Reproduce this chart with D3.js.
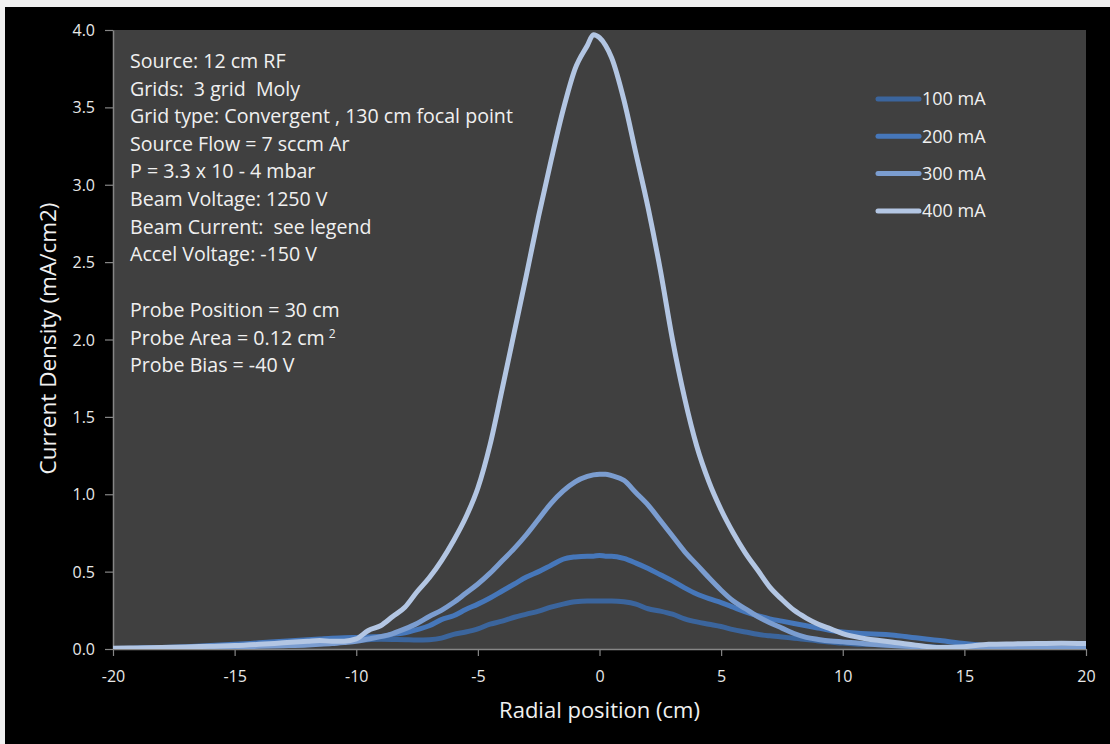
<!DOCTYPE html>
<html>
<head>
<meta charset="utf-8">
<script src="https://cdn.jsdelivr.net/npm/d3@7"></script>
<style>
html,body{margin:0;padding:0;background:#f0f0f0;}
svg{display:block;}
text{white-space:pre;}
</style>
</head>
<body>
<svg id="chart" width="1110" height="744"></svg>
<script>
// ---------------- DATA ----------------
const radialPosition = [-20,-19,-18,-17,-16,-15,-14,-13,-12,
  -11.5,-11,-10.5,-10,-9.5,-9,-8.5,-8,-7.5,-7,-6.5,-6,-5.5,-5,-4.5,-4,-3.5,-3,-2.5,-2,-1.5,-1,-0.5,
  -0.25,0,0.25,
  0.5,1,1.5,2,2.5,3,3.5,4,4.5,5,5.5,6,6.5,7,7.5,8,8.5,9,9.5,10,10.5,11,11.5,
  12,13,14,15,16,17,18,19,20];

const density100 = [0.002,0.004,0.006,0.01,0.015,0.02,0.027,0.033,0.04,
  0.043,0.046,0.05,0.055,0.06,0.063,0.062,0.06,0.058,0.06,0.07,0.095,0.11,0.13,0.16,0.18,0.205,0.225,0.245,0.27,0.29,0.305,0.31,
  0.31,0.31,0.31,
  0.31,0.305,0.29,0.26,0.245,0.225,0.195,0.175,0.16,0.145,0.125,0.11,0.095,0.085,0.077,0.07,0.062,0.052,0.045,0.038,0.033,0.03,0.027,
  0.024,0.018,0.012,0.008,0.006,0.005,0.005,0.004,0.004];

const density200 = [0.003,0.006,0.01,0.015,0.022,0.03,0.04,0.05,0.06,
  0.065,0.07,0.072,0.075,0.078,0.08,0.095,0.105,0.125,0.15,0.19,0.215,0.255,0.29,0.33,0.375,0.42,0.465,0.5,0.54,0.58,0.595,0.6,
  0.6,0.605,0.6,
  0.6,0.585,0.555,0.52,0.48,0.44,0.395,0.355,0.325,0.3,0.27,0.24,0.215,0.195,0.18,0.165,0.15,0.135,0.12,0.11,0.103,0.098,0.095,
  0.09,0.072,0.055,0.035,0.02,0.012,0.008,0.006,0.005];

const density300 = [0.003,0.004,0.005,0.007,0.01,0.013,0.017,0.021,0.026,
  0.03,0.035,0.042,0.05,0.065,0.08,0.1,0.13,0.165,0.21,0.25,0.3,0.36,0.42,0.49,0.57,0.65,0.74,0.84,0.94,1.02,1.08,1.115,
  1.125,1.13,1.13,
  1.12,1.09,1.01,0.93,0.83,0.73,0.63,0.545,0.46,0.38,0.31,0.26,0.21,0.17,0.135,0.1,0.075,0.062,0.052,0.046,0.04,0.033,0.027,
  0.022,0.015,0.01,0.008,0.007,0.006,0.005,0.005,0.005];

const density400 = [0.005,0.007,0.01,0.013,0.018,0.022,0.03,0.04,0.05,
  0.055,0.05,0.05,0.065,0.12,0.15,0.21,0.27,0.37,0.46,0.57,0.7,0.85,1.04,1.32,1.68,2.05,2.42,2.8,3.15,3.48,3.75,3.9,
  3.97,3.95,3.9,
  3.82,3.55,3.2,2.85,2.45,2.0,1.62,1.31,1.08,0.9,0.75,0.62,0.51,0.4,0.32,0.25,0.2,0.16,0.13,0.1,0.08,0.065,0.055,
  0.045,0.025,0.01,0.015,0.03,0.033,0.035,0.037,0.035];

const seriesNames = ["100 mA","200 mA","300 mA","400 mA"];
const seriesColors = ["#3b659d","#4677ba","#7b9dd0","#b3c6e3"];
const xTicks = [-20,-15,-10,-5,0,5,10,15,20];
const yTicks = [0,0.5,1,1.5,2,2.5,3,3.5,4];
const notes = ["Source: 12 cm RF","Grids:  3 grid  Moly","Grid type: Convergent , 130 cm focal point",
  "Source Flow = 7 sccm Ar","P = 3.3 x 10 - 4 mbar","Beam Voltage: 1250 V","Beam Current:  see legend",
  "Accel Voltage: -150 V"];
const probeNotes = ["Probe Position = 30 cm","Probe Area = 0.12 cm","Probe Bias = -40 V"];

// ---------------- CHART ----------------
const svg = d3.select("#chart");
const W = 1110, H = 744;
const font = "'Open Sans', Lato, sans-serif";

// outer black frame
svg.append("rect").attr("x",5).attr("y",7).attr("width",W-5).attr("height",H-7).attr("fill","#000");

const plot = {left:113, top:30, right:1086, bottom:649};
const x = d3.scaleLinear().domain([-20,20]).range([plot.left, plot.right]);
const y = d3.scaleLinear().domain([0,4]).range([plot.bottom, plot.top]);

svg.append("rect").attr("x",plot.left).attr("y",plot.top)
  .attr("width",plot.right-plot.left).attr("height",plot.bottom-plot.top).attr("fill","#404040");

// axes
const xAxis = svg.append("g").attr("transform",`translate(0,${plot.bottom})`)
  .call(d3.axisBottom(x).tickValues(xTicks).tickFormat(d=>d).tickSize(7).tickSizeOuter(0));
const yAxis = svg.append("g").attr("transform",`translate(${plot.left},0)`)
  .call(d3.axisLeft(y).tickValues(yTicks).tickFormat(d3.format(".1f")).tickSize(8).tickSizeOuter(0));
[xAxis,yAxis].forEach(a=>{
  a.select(".domain").attr("stroke","#868686").attr("stroke-width",1.5);
  a.selectAll(".tick line").attr("stroke","#868686").attr("stroke-width",1.2);
  a.selectAll(".tick text").attr("fill","#e8e8e8").attr("font-family",font).attr("font-size",16);
});
xAxis.selectAll(".tick text").attr("dy","0").attr("y",33);
yAxis.selectAll(".tick text").attr("x",-18).attr("dy","0.35em");

// axis titles
svg.append("text").attr("x",(plot.left+plot.right)/2).attr("y",718)
  .attr("text-anchor","middle").attr("fill","#f0f0f0").attr("font-family",font).attr("font-size",22)
  .text("Radial position (cm)");
svg.append("text").attr("transform",`translate(56,${(plot.top+plot.bottom)/2 - 1}) rotate(-90)`)
  .attr("text-anchor","middle").attr("fill","#f0f0f0").attr("font-family",font).attr("font-size",22.5)
  .text("Current Density (mA/cm2)");

// clip
svg.append("clipPath").attr("id","clip").append("rect")
  .attr("x",plot.left).attr("y",plot.top-4).attr("width",plot.right-plot.left).attr("height",plot.bottom-plot.top+4);

const allSeries = [density100,density200,density300,density400];
const line = d3.line().x((d,i)=>x(radialPosition[i])).y(d=>y(d)).curve(d3.curveMonotoneX);
const g = svg.append("g").attr("clip-path","url(#clip)");
allSeries.forEach((s,k)=>{
  g.append("path").datum(s).attr("d",line).attr("fill","none")
    .attr("stroke",seriesColors[k]).attr("stroke-width",5)
    .attr("stroke-linejoin","round").attr("stroke-linecap","round");
});

// notes
const nt = svg.append("g").attr("font-family",font).attr("font-size",19.6).attr("fill","#f0f0f0");
notes.forEach((t,i)=>{
  nt.append("text").attr("x",130).attr("y",68+i*27.6).text(t);
});
probeNotes.forEach((t,i)=>{
  const tx = nt.append("text").attr("x",130).attr("y",317+i*27.6).text(t);
  if(i===1){ tx.append("tspan").attr("dx",4).attr("dy",-7).attr("font-size",12).text("2"); }
});

// legend
const lg = svg.append("g");
seriesNames.forEach((n,i)=>{
  const yy = 99 + i*37.3;
  lg.append("line").attr("x1",878).attr("x2",919).attr("y1",yy).attr("y2",yy)
    .attr("stroke",seriesColors[i]).attr("stroke-width",5).attr("stroke-linecap","round");
  lg.append("text").attr("x",922).attr("y",yy).attr("dy","0.35em")
    .attr("font-family",font).attr("font-size",18).attr("fill","#f0f0f0").text(n);
});
</script>
</body>
</html>
